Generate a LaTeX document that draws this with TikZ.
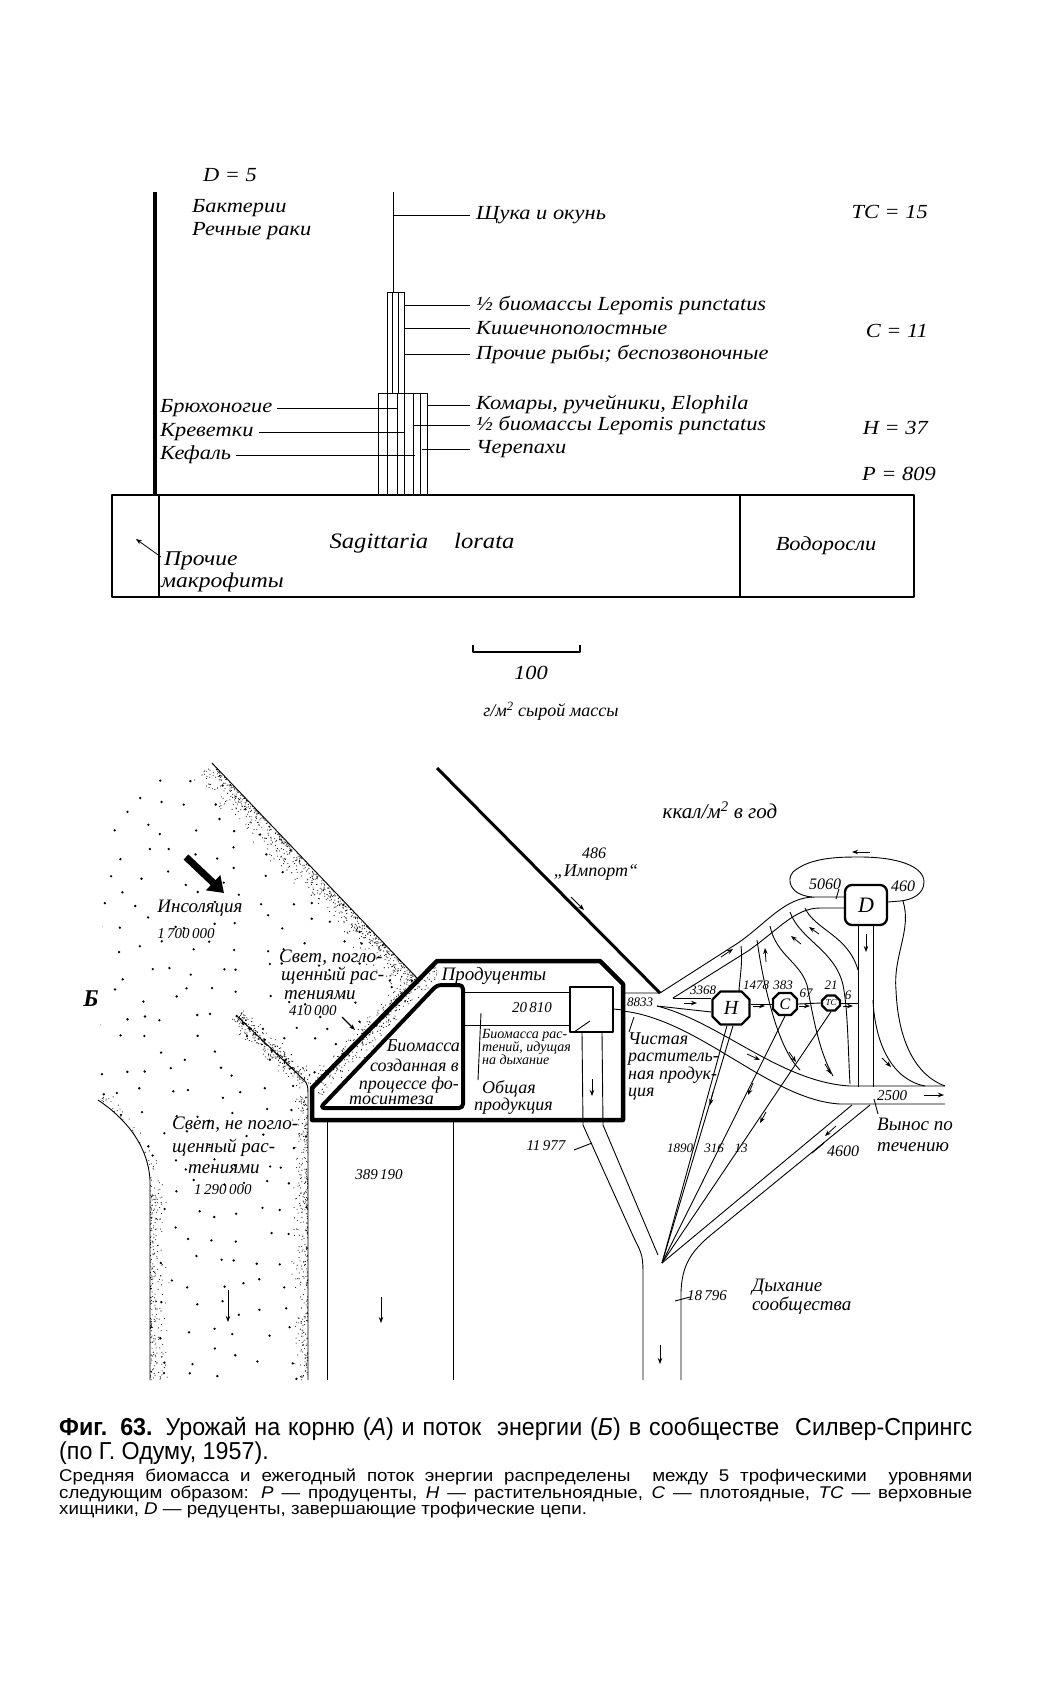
\documentclass[tikz,border=0pt]{standalone}
\usepackage{fontspec}
\setmainfont{Liberation Serif}
\newfontfamily\labfont[FakeStretch=1.12]{Liberation Serif}
\newfontfamily\capfont[FakeStretch=0.95]{Liberation Sans}
\newfontfamily\capwide[FakeStretch=1.1]{Liberation Sans}
\usetikzlibrary{arrows.meta,positioning,calc,shapes.misc}
\tikzset{labA/.style={font=\labfont\fontsize{20}{20}\selectfont\itshape,inner sep=0pt},
  lab/.style={font=\fontsize{19}{19}\selectfont\itshape,inner sep=0pt},
  labs/.style={font=\fontsize{14}{13}\selectfont\itshape,inner sep=0pt},
  num/.style={font=\fontsize{15}{15}\selectfont\itshape,inner sep=0pt},
  nums/.style={font=\fontsize{13}{13}\selectfont\itshape,inner sep=0pt},
  fine/.style={line width=.9pt},
  troph/.style={draw,line width=2.3pt,chamfered rectangle,chamfered rectangle xsep=4pt,
    chamfered rectangle ysep=4pt,inner sep=0pt,font=\fontsize{20}{20}\selectfont\itshape},
  sarrow/.style={-{Stealth[length=6pt,width=4.5pt]},line width=.8pt}}
% fine stipple along a strip: x1 y1 x2 y2 width count
\newcommand\stipstrip[6]{%
  \pgfmathsetmacro\stDx{#3-#1}\pgfmathsetmacro\stDy{#4-#2}%
  \pgfmathsetmacro\stL{veclen(\stDx,\stDy)}%
  \pgfmathsetmacro\stNx{-1*(\stDy)/\stL}\pgfmathsetmacro\stNy{\stDx/\stL}%
  \foreach \stI in {1,...,#6}{%
    \pgfmathsetmacro\stT{rnd}\pgfmathsetmacro\stD{(#5)*rnd*rnd}%
    \fill ({#1+\stT*(\stDx)+\stD*(\stNx)},{#2+\stT*(\stDy)+\stD*(\stNy)}) circle (.55pt);}}

\begin{document}
\begin{tikzpicture}[x=1pt,y=-1pt,line join=round]
\useasboundingbox (0,0) rectangle (1038,1684);
\fill[white] (0,0) rectangle (1038,1684);

% ---------- A: standing crop
\draw[line width=4.5pt] (155,192) -- (155,495);
\node[labA,anchor=west] (dfive) at (203,175) {D = 5};
\node[labA,anchor=west] (bakt) at (192,208) {Бактерии};
\node[labA,anchor=west] (raki) at (192,231) {Речные раки};
\draw[fine] (393,192) -- (393,292);
\draw[fine] (387,393) -- (387,292) -- (404,292) -- (404,393);
\foreach \x in {392,398} \draw[fine] (\x,292) -- (\x,393);
\draw[fine] (378,495) -- (378,393) -- (427,393) -- (427,495);
\foreach \x in {387,397,404,413,420} \draw[fine] (\x,393) -- (\x,495);
\foreach \nm/\xs/\y/\t in {pike/393/215/{Щука и окунь},
    lepa/404/305/{½ биомассы Lepomis punctatus},
    kish/404/328/{Кишечнополостные},
    proch/404/354/{Прочие рыбы; беспозвоночные},
    kom/427/405/{Комары, ручейники, Elophila},
    lepb/413/425/{½ биомассы Lepomis punctatus},
    cher/422/449/{Черепахи}}{
  \node[labA,anchor=west] (\nm) at (476,\y) {\t};
  \draw[fine] (\xs,\y) -- ([xshift=-6pt]\nm.west);}
\foreach \nm/\xe/\y/\t in {bryu/397/408/Брюхоногие, krev/405/432/Креветки, kef/415/455/Кефаль}{
  \node[labA,anchor=west] (\nm) at (160,\y) {\t};
  \draw[fine] ([xshift=5pt]\nm.east) -- (\xe,\y);}
\node[labA,anchor=east] (tclev) at (928,212) {TC = 15};
\node[labA,anchor=east] (clev) at (928,331) {C = 11};
\node[labA,anchor=east] (hlev) at (928,428) {H = 37};
\node[labA,anchor=east] (plev) at (936,474) {P = 809};
\draw[line width=2pt] (112,495) rectangle (914,597);
\draw[line width=2pt] (159,495) -- (159,597) (740,495) -- (740,597);
\node[labA,font=\labfont\fontsize{22}{22}\selectfont\itshape] (sag) at (422,543) {Sagittaria\hspace{26pt}lorata};
\node[labA] (vodo) at (826,546) {Водоросли};
\node[labA,anchor=west,font=\labfont\fontsize{21}{21}\selectfont\itshape] (mak1) at (164,561) {Прочие};
\node[labA,anchor=west,font=\labfont\fontsize{21}{21}\selectfont\itshape] (mak2) at (161,582) {макрофиты};
\draw[sarrow] (161,557) -- (136,539);
\draw[line width=1.6pt] (473,645) -- (473,652) -- (580,652) -- (580,645);
\node[labA] (hund) at (531,673) {100};
\node[lab,font=\fontsize{18}{18}\selectfont\itshape] (unit) at (551,711) {г/м\textsuperscript{2} сырой массы};

% ---------- B: energy flow
\node[font=\fontsize{24}{24}\selectfont\bfseries\itshape,inner sep=0pt] (blet) at (91,999) {Б};
% light stream
\pgfmathsetseed{11}
\begin{scope}
  \clip (212,763) -- (418,979) -- (312,1088) -- (308,1095) -- (308,1380) -- (150,1380)
    -- (150,1180) .. controls (148,1145) and (125,1118) .. (98,1100) -- (106,800) -- (150,772) -- cycle;
  \foreach \gx in {96,120,...,432}{\foreach \gy in {756,780,...,1380}{
    \fill ({\gx+rand*9},{\gy+rand*9}) circle (1.3pt);}}
  \stipstrip{212}{763}{418}{979}{28}{750}
  \stipstrip{236}{1015}{306}{1082}{14}{170}
  \stipstrip{236}{1015}{306}{1082}{-14}{170}
  \stipstrip{308}{1095}{308}{1380}{18}{360}
  \stipstrip{150}{1180}{150}{1380}{-20}{260}
  \stipstrip{98}{1100}{150}{1180}{-18}{130}
  \stipstrip{418}{979}{312}{1088}{12}{140}
\end{scope}
\begin{scope}
  \clip (437,961) -- (312,1088) -- (320,1108) -- (437,985) -- cycle;
  \stipstrip{437}{961}{312}{1088}{-18}{260}
\end{scope}
\draw[fine] (212,763) -- (418,979);
\draw[fine] (236,1015) -- (304,1080) .. controls (308,1085) .. (308,1100) -- (308,1380);
\draw[fine] (98,1100) .. controls (125,1118) and (148,1145) .. (150,1180) -- (150,1380);
\draw[fine] (327,1120) -- (327,1380) (453,1120) -- (453,1380);
\draw[line width=7pt,-{Triangle[length=15pt,width=20pt]}] (186,857) -- (224,893);
\node[lab] (insol) at (200,908) {Инсоляция};
\node[num] (insolv) at (186,934) {1\,700\,000};
\foreach \nm/\x/\y/\t in {sva/279/958/{Свет, погло-}, svb/281/976/{щенный рас-}, svc/284/995/{тениями},
    nva/172/1125/{Свет, не погло-}, nvb/172/1148/{щенный рас-}, nvc/188/1169/{тениями}}{
  \node[lab,anchor=west] (\nm) at (\x,\y) {\t};}
\node[num,anchor=west] (svd) at (289,1011) {410\,000};
\node[num,anchor=west] (nvd) at (194,1190) {1\,290\,000};
\draw[sarrow,line width=1.4pt] (342,1017) -- (355,1030);
\draw[sarrow] (228,1290) -- (228,1322);
\draw[sarrow] (381,1297) -- (381,1323);
\node[num] (heat) at (379,1175) {389\,190};

% producers
\draw[line width=4.5pt] (437,961) -- (600,961) -- (623,984) -- (623,1120) -- (312,1120) -- (312,1088) -- cycle;
\draw[line width=4pt,rounded corners=4pt] (437,985) -- (463,985) -- (463,1108) -- (320,1108) -- cycle;
\node[troph,line width=2pt,minimum width=43pt,minimum height=45pt,chamfered rectangle xsep=9pt,
  chamfered rectangle ysep=9pt] (pr) at (591,1009) {};
\draw[fine] (465,992) -- (570,992) (465,1025) -- (570,1025);
\node[lab] (prod) at (494,976) {Продуценты};
\node[num] (gross) at (532,1008) {20\,810};
\foreach \nm/\x/\y/\t in {bma/460/1046/Биомасса, bmb/459/1065/{созданная в}, bmc/459/1085/{процессе фо-}, bmd/434/1100/тосинтеза}{
  \node[lab,anchor=east,font=\fontsize{18}{18}\selectfont\itshape] (\nm) at (\x,\y) {\t};}
\node[labs,anchor=north west,align=left] (rsp) at (482,1029) {Биомасса рас-\\тений, идущая\\на дыхание};
\node[lab,anchor=west,font=\fontsize{18}{18}\selectfont\itshape] (oba) at (482,1089) {Общая};
\node[lab,anchor=west,font=\fontsize{18}{18}\selectfont\itshape] (obb) at (474,1106) {продукция};
\draw[fine] (481,1013) -- (478,1080);
\draw[fine] (574,1032) -- (590,1021);
\draw[sarrow] (592,1079) -- (592,1096);
\draw[fine] (pr.east) -- (623,1010);
\draw[fine] ([xshift=-9pt]pr.south) -- (583,1125) -- (634,1238) .. controls (643,1256) .. (643,1280) -- (643,1380);
\draw[fine] ([xshift=11pt]pr.south) -- (603,1125) -- (658,1255);
\node[num] (resp) at (546,1146) {11\,977};
\draw[fine] (574,1150) -- (592,1143);

% import
\draw[line width=3pt] (437,768) -- (660,993);
\node[num,font=\fontsize{16}{16}\selectfont\itshape] (imn) at (594,853) {486};
\node[lab,font=\fontsize{18}{18}\selectfont\itshape] (imp) at (596,872) {„Импорт“};
\draw[sarrow] (571,897) -- (584,910);
\node[lab,font=\fontsize{21}{21}\selectfont\itshape] (units) at (720,810) {ккал/м\textsuperscript{2} в год};

% consumers and decomposers
\node[troph,minimum width=37pt,minimum height=33pt] (H) at (731,1008) {H};
\node[troph,minimum width=24pt,minimum height=22pt,chamfered rectangle xsep=3pt,chamfered rectangle ysep=3pt,
  font=\fontsize{16}{16}\selectfont\itshape] (C) at (785,1004) {C};
\node[troph,minimum width=18pt,minimum height=15pt,chamfered rectangle xsep=2.5pt,chamfered rectangle ysep=2.5pt,
  font=\fontsize{9}{9}\selectfont\itshape] (TC) at (831,1003) {TC};
\node[draw,line width=2.3pt,rounded corners=7pt,minimum width=42pt,minimum height=40pt,inner sep=0pt,
  font=\fontsize{22}{22}\selectfont\itshape] (D) at (866,905) {D};
\draw[fine] (H.east |- C.west) -- (C.west);
\draw[fine] (C.east) -- (TC.west);
\draw[fine] (TC.east) -- (858,1003);
\draw[sarrow] (753,1006) -- (765,1006);
\draw[sarrow] (799,1006) -- (810,1006);
\draw[sarrow] (843,1006) -- (853,1006);
% net production channels
\node[nums] (np) at (640,1002) {8833};
\draw[fine] (623,993) -- (660,993) -- (738,943) .. controls (768,922) and (785,897) .. (815,897) -- (D.west |- 0,897);
\draw[fine] (673,998) -- (748,951) .. controls (778,930) and (795,908) .. (820,908) -- (D.west |- 0,908);
\draw[fine] (673,998) -- (H.west |- 0,998);
\draw[fine] (657,1006) -- (H.west |- 0,1012);
\draw[fine] (657,1006) .. controls (720,1022) and (780,1082) .. (850,1086) -- (945,1086);
\draw[fine] (623,1011) .. controls (700,1020) and (770,1100) .. (840,1104) -- (945,1104);
\draw[sarrow] (684,1003) -- (697,1003);
\draw[sarrow] (721,957) -- (733,949);
\draw[sarrow] (747,1054) -- (760,1060);
\draw[sarrow] (924,1095) -- (944,1095);
% decomposer loop and outflow
\draw[fine] (812,897) .. controls (790,895) and (786,880) .. (793,872) .. controls (810,857) and (840,857) .. (860,857)
  .. controls (897,857) and (924,866) .. (924,882) .. controls (924,894) and (912,900) .. (900,901) -- (D.east |- 0,902);
\draw[sarrow] (870,852) -- (852,852);
\node[num,font=\fontsize{16}{16}\selectfont\itshape] (dl) at (825,884) {5060};
\node[num,font=\fontsize{16}{16}\selectfont\itshape] (dr) at (903,886) {460};
\draw[fine] (839,889) -- (836,899);
\draw[fine] ([xshift=-8pt]D.south) -- (858,1087);
\draw[fine] ([xshift=7pt]D.south) -- (873,1087);
\draw[sarrow] (866,934) -- (866,952);
\draw[fine] (903,901) .. controls (912,930) and (893,955) .. (896,990) .. controls (898,1040) and (915,1075) .. (945,1086);
\draw[fine] (873,1000) .. controls (875,1045) and (893,1080) .. (925,1086);
\draw[sarrow] (882,1058) -- (891,1067);
% dead matter to decomposers
\draw[fine] (741,946) .. controls (743,965) and (739,982) .. (739,992);
\draw[fine] (757,940) .. controls (762,975) and (768,1000) .. (776,1025) .. controls (783,1045) and (790,1060) .. (800,1070);
\draw[fine] (770,926) .. controls (776,955) and (800,962) .. (807,985) .. controls (812,1010) and (818,1050) .. (833,1076);
\draw[fine] (790,912) .. controls (800,940) and (835,950) .. (843,985) .. controls (848,1010) and (848,1050) .. (850,1084);
\draw[fine] (805,908) .. controls (815,930) and (848,935) .. (858,970);
\draw[sarrow] (766,962) -- (765,948);
\draw[sarrow] (801,944) -- (791,936);
\draw[sarrow] (819,934) -- (809,927);
\draw[sarrow] (789,1052) -- (796,1062);
\draw[sarrow] (825,1064) -- (831,1074);
% respiration fan
\coordinate (V) at (662,1263);
\draw[fine] ([xshift=-4pt]H.south) -- (V);
\draw[fine] ([xshift=2pt]H.south) -- (V);
\draw[fine] (C.south) -- (V);
\draw[fine] (TC.south) -- (V);
\draw[fine] (852,1105) -- (V);
\draw[fine] (870,1105) -- (712,1234) .. controls (690,1252) and (682,1266) .. (681,1292) -- (681,1380);
\draw[sarrow] (713,1092) -- (710,1105);
\draw[sarrow] (753,1083) -- (748,1095);
\draw[sarrow] (766,1112) -- (760,1123);
\draw[sarrow] (836,1126) -- (825,1136);
\draw[sarrow] (660,1345) -- (660,1364);
\draw[fine] (812,1153) -- (824,1143);
\draw[fine] (675,1301) -- (690,1297);
\draw[fine] (874,1099) -- (878,1114);
\draw[fine] (634,1017) -- (629,1032);
% numbers and labels of the flows
\foreach \nm/\x/\y/\t in {fh/703/990/3368, fc/756/985/1478, fcc/783/985/383, ftc/806/993/67, ftcc/831/985/21, fd/848/995/6,
    rh/680/1148/1890, rc/714/1148/316, rtc/741/1148/13}{
  \node[nums] (\nm) at (\x,\y) {\t};}
\node[num,font=\fontsize{16}{16}\selectfont\itshape] (rd) at (843,1151) {4600};
\node[num] (exp) at (892,1096) {2500};
\node[num] (comm) at (707,1296) {18\,796};
\node[lab,anchor=north west,align=left,font=\fontsize{18}{17.5}\selectfont\itshape] (npl) at (628,1032)
  {Чистая\\раститель-\\ная продук-\\ция};
\node[lab,anchor=north west,align=left,font=\fontsize{19}{21}\selectfont\itshape] (vyn) at (877,1118) {Вынос по\\течению};
\node[lab,anchor=north west,align=left,font=\fontsize{19}{19}\selectfont\itshape] (dyh) at (752,1279) {Дыхание\\сообщества};

% ---------- caption
\node[anchor=west,inner sep=0pt,font=\capfont\fontsize{24.5}{24.5}\selectfont] (capa) at (59,1429)
  {\makebox[913pt][s]{\textbf{Фиг. 63.} Урожай на корню (\textit{А}) и поток\ \ энергии (\textit{Б}) в сообществе\ \ Силвер-Спрингс}};
\node[anchor=west,inner sep=0pt,font=\capfont\fontsize{24.5}{24.5}\selectfont] (capb) at (59,1453) {(по Г. Одуму, 1957).};
\node[anchor=north west,inner sep=0pt,align=left,font=\capwide\fontsize{17}{16.5}\selectfont] (capc) at (59,1469)
  {\makebox[913pt][s]{Средняя биомасса и ежегодный поток энергии распределены\ \ между 5 трофическими\ \ уровнями}\\
   \makebox[913pt][s]{следующим образом: \textit{P} — продуценты, \textit{H} — растительноядные, \textit{C} — плотоядные, \textit{TC} — верховные}\\
   хищники, \textit{D} — редуценты, завершающие трофические цепи.};
\end{tikzpicture}
\end{document}
